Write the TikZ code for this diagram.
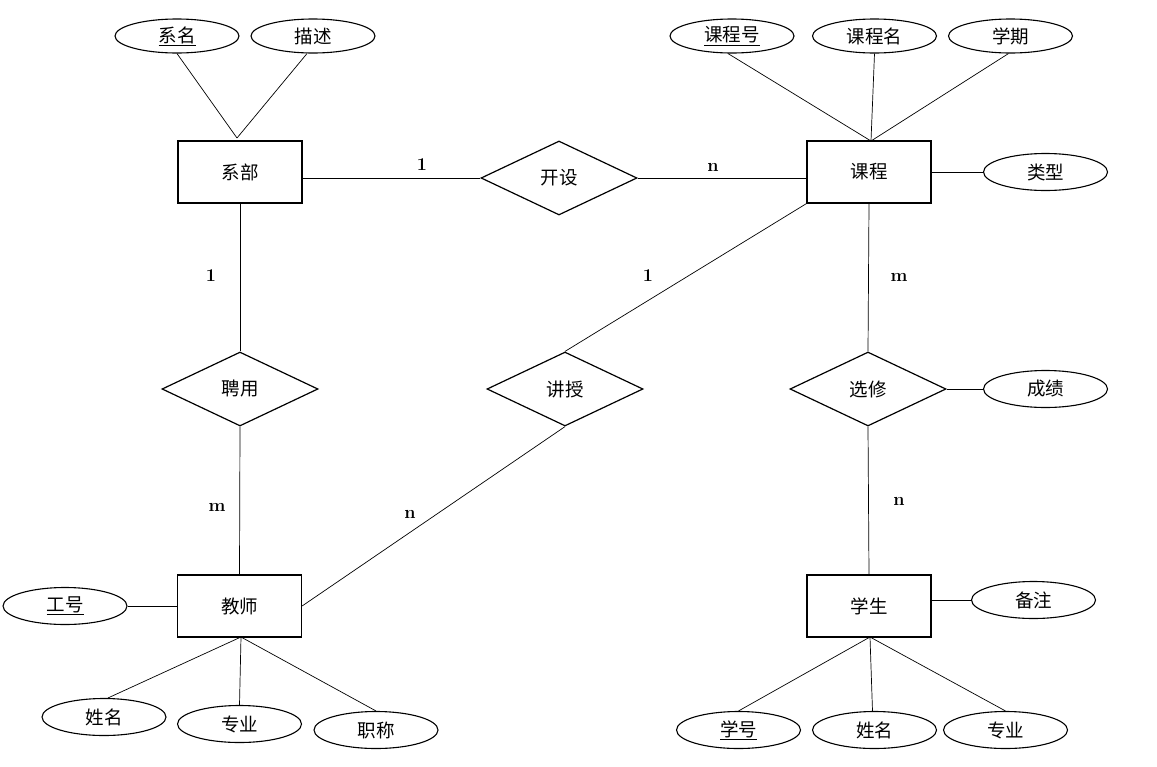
\documentclass[tikz,border=0pt]{standalone}
\usepackage{fontspec}
\newfontfamily\cjk{Noto Sans CJK SC}
\usetikzlibrary{shapes.geometric}
\begin{document}
\begin{tikzpicture}[x=1pt,y=-1pt,
  every node/.style={font=\cjk\fontsize{18.5}{18.5}\selectfont},
  ent/.style={draw,line width=1.2pt,rectangle,minimum width=124pt,minimum height=62pt,inner sep=0pt},
  rel/.style={draw,line width=1.2pt,diamond,minimum width=156pt,minimum height=74pt,inner sep=0pt},
  attr/.style={draw,line width=1.1pt,ellipse,minimum width=124pt,minimum height=37pt,inner sep=0pt},
  link/.style={line width=0.7pt},
  card/.style={font=\bfseries\fontsize{18}{18}\selectfont,inner sep=0pt}]
\useasboundingbox (0,0) rectangle (1157,766);
% entities
\node[ent] (xibu) at (240,172) {系部};
\node[ent] (kc) at (869,172) {课程};
\node[ent] (js) at (239.5,606) {教师};
\node[ent] (xs) at (869,606) {学生};
% relationships
\node[rel] (ks) at (559,178) {开设};
\node[rel] (py) at (240,389) {聘用};
\node[rel] (jsh) at (565,389) {讲授};
\node[rel] (xx) at (868,389) {选修};
% attributes
\node[attr,minimum height=34pt] (xm) at (177,36) {\underline{系名}};
\node[attr,minimum height=34pt] (ms) at (313,36) {描述};
\node[attr,minimum height=34pt] (kch) at (732,36) {\underline{课程号}};
\node[attr,minimum height=34pt] (kcm) at (874.5,36) {课程名};
\node[attr,minimum height=34pt] (xq) at (1010.5,36) {学期};
\node[attr] (lx) at (1045.5,172) {类型};
\node[attr] (cj) at (1045.5,389) {成绩};
\node[attr] (gh) at (65,606) {\underline{工号}};
\node[attr] (jxm) at (104,717) {姓名};
\node[attr] (jzy) at (239.5,724) {专业};
\node[attr] (zc) at (376,730) {职称};
\node[attr] (bz) at (1033.5,600) {备注};
\node[attr] (xh) at (738.5,730) {\underline{学号}};
\node[attr] (sxm) at (874.5,730) {姓名};
\node[attr] (szy) at (1005.5,730) {专业};
% junction points
\coordinate (xibuT) at (237,138);
\coordinate (kcT) at (871,141);
\coordinate (jsB) at (241,637);
\coordinate (xsB) at (870,637);
% attribute links
\draw[link] (xm.south) -- (xibuT);
\draw[link] ([xshift=-6pt]ms.south) -- (xibuT);
\draw[link] ([xshift=-4pt]kch.south) -- (kcT);
\draw[link] (kcm.south) -- (kcT);
\draw[link] ([xshift=-2pt]xq.south) -- (kcT);
\draw[link] (kc.east) -- (lx.west);
\draw[link] (xx.east) -- (cj.west);
\draw[link] (gh.east) -- (js.west);
\draw[link] (jsB) -- ([xshift=4pt]jxm.north);
\draw[link] (jsB) -- (jzy.north);
\draw[link] (jsB) -- (zc.north);
\draw[link] (xs.east |- bz.west) -- (bz.west);
\draw[link] (xsB) -- (xh.north);
\draw[link] (xsB) -- ([xshift=-2pt]sxm.north);
\draw[link] (xsB) -- (szy.north);
% relationship links
\draw[link] (ks.west -| xibu.east) -- (ks.west);
\draw[link] (ks.east) -- (ks.east -| kc.west);
\draw[link] (xibu.south) -- (py.north);
\draw[link] (py.south) -- (js.north);
\draw[link] (kc.south west) -- (jsh.north);
\draw[link] (jsh.south) -- (js.east);
\draw[link] (kc.south) -- (xx.north);
\draw[link] (xx.south) -- (xs.north);
% cardinalities
\node[card] (c1) at (422,165) {1};
\node[card] (c2) at (713,167) {n};
\node[card] (c3) at (648,276) {1};
\node[card] (c4) at (410,514) {n};
\node[card] (c5) at (211,276) {1};
\node[card] (c6) at (217,507) {m};
\node[card] (c7) at (899,277) {m};
\node[card] (c8) at (899,501) {n};
\end{tikzpicture}
\end{document}
